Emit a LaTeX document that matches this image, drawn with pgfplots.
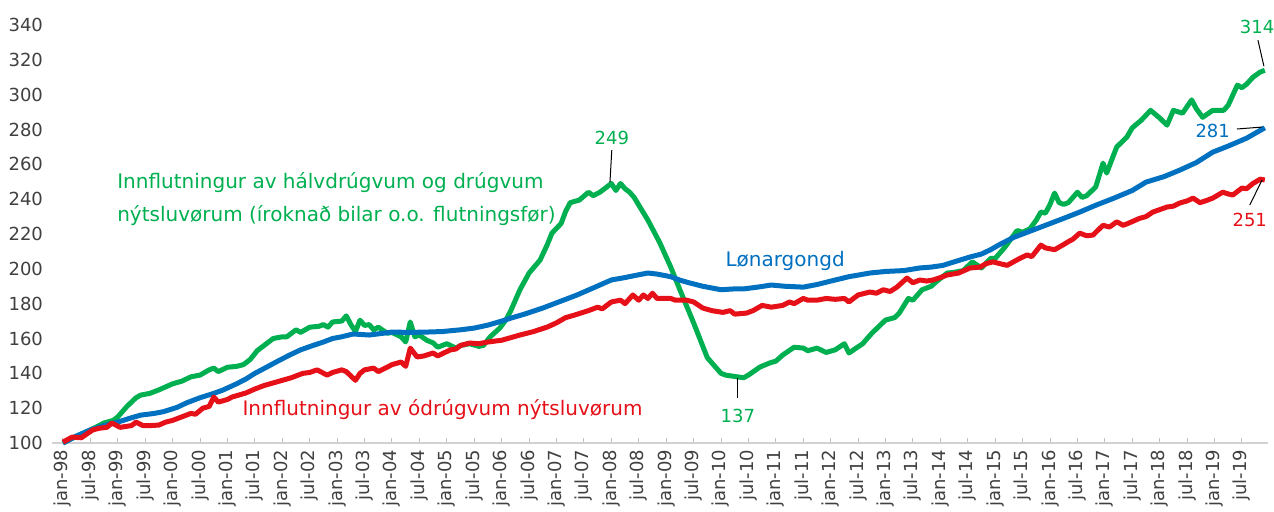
\documentclass[border=0pt]{standalone}
\usepackage{fontspec}
\setmainfont{DejaVu Sans}
\usepackage{pgfplots}
\pgfplotsset{compat=1.18}
\definecolor{cgreen}{RGB}{0,176,80}
\definecolor{cblue}{RGB}{0,112,192}
\definecolor{cred}{RGB}{230,16,24}
\definecolor{ctick}{RGB}{64,64,64}
\begin{document}
\begin{tikzpicture}
\useasboundingbox (-26pt,-34pt) rectangle (611pt,221.5pt);
\begin{axis}[
  at={(0pt,0pt)}, anchor=south west,
  scale only axis, width=608pt, height=209pt,
  xmin=-2.4, xmax=263.7, ymin=100, ymax=340,
  clip=false,
  axis x line*=bottom, axis y line*=left,
  y axis line style={draw=none},
  x axis line style={draw=black!18, line width=0.6pt},
  ytick={100,120,...,340},
  xtick={0,6,...,258},
  xticklabels={jan-98,jul-98,jan-99,jul-99,jan-00,jul-00,jan-01,jul-01,jan-02,jul-02,jan-03,jul-03,jan-04,jul-04,jan-05,jul-05,jan-06,jul-06,jan-07,jul-07,jan-08,jul-08,jan-09,jul-09,jan-10,jul-10,jan-11,jul-11,jan-12,jul-12,jan-13,jul-13,jan-14,jul-14,jan-15,jul-15,jan-16,jul-16,jan-17,jul-17,jan-18,jul-18,jan-19,jul-19},
  ytick style={draw=none},
  xtick style={draw=black!25, line width=0.5pt},
  tick align=inside, major tick length=2.5pt,
  /pgf/number format/assume math mode=true,
  yticklabel style={font=\fontsize{9}{10}\selectfont, text=ctick, anchor=east, xshift=-1pt},
  xticklabel style={font=\fontsize{9}{10}\selectfont, text=ctick, rotate=90, anchor=east, yshift=0pt},
  every axis plot/.append style={line width=2.5pt, line join=round, no markers},
]
% Green: imports of semi-durable and durable consumer goods
\addplot[cgreen] coordinates {
(0,100)(3,104)(6,107.5)(9,111.5)(11,113)(12,115)(14,121)(16,126)(17,127.5)(19,128.5)(21,130.5)(24,134)(26,135.5)(28,138)(30,139)(32,142)(33,143)(34,141)(36,143.5)(38,144)(39.5,145)(41,148)(42.5,153)(44,156)(46,160)(48,161)(49,161)(51,165)(52,163.5)(54,166.5)(56,167)(57,168)(58,166.5)(59,169.5)(61,170)(62,173)(63,168)(64,164)(65,170.5)(66,167.5)(67,168)(68,165)(69,166.5)(71,163)(72,163.5)(74,161)(75,158)(76,169.5)(77,161)(78,162)(79.6,159)(81,157.5)(82,155)(84,157)(86,154.5)(87,156)(89,157)(91,155.5)(92,156)(93.5,161)(95.6,166)(97,171)(98,176)(100,188)(102,197.6)(104.4,205)(106,214)(107,220.5)(109,226)(110,233)(111,238)(113,239.5)(115,244)(116,242)(117.5,244)(119,247)(120,249)(121,245)(122,249)(123,246)(124,244)(125,241)(126,236.6)(128,228)(130.6,215)(133,201)(135,188)(138,169)(141,149)(142,146)(144,140)(145,139)(147.5,138)(149,137.5)(150,139)(152.5,143.6)(154.7,146)(156,147)(157.5,150.5)(160,155)(162,154.5)(163,153)(165,154.5)(167,152)(169,153.5)(171,157)(172,151.7)(175,157)(177,163)(180,170.6)(182,172)(183,174.6)(185,183)(186,182)(188,188)(190,190)(191,192.4)(193.5,197.6)(195,198)(197,199)(199,204)(201,200.5)(203,206)(204,206)(206,212)(208.8,222)(210,221)(211.6,223)(213,228)(214,232.6)(215,232)(216,237)(217,243.5)(218,238)(219,237)(220,238)(222,244)(223,241)(224,242)(226,247)(227.6,260.7)(228.4,255)(230,266)(230.6,270)(232.8,275.6)(234,281)(236,285.4)(238,291)(240,286.6)(241.6,282.5)(243,291)(245,289.4)(247,297)(248,292)(249.4,287)(251.6,291)(254,291)(255,294)(257,305.5)(258,304)(259,306)(260.4,310)(262,313)(263,314)
};
% Blue: wages
\addplot[cblue] coordinates {
(0,100)(3,104)(6,107.5)(9,110)(12,112)(15,114.5)(17,116)(20,117)(22,118)(25,120.5)(27,123)(30,126)(33,128.5)(35,130.4)(38,134)(40,136.7)(42,140)(44.6,143.6)(47,147)(49.6,150.5)(52,153.5)(54.7,156)(57,158)(59,160)(61,161)(63.5,162.6)(67,162)(70,163)(72,163.7)(76,163.5)(79.6,163.7)(83,164)(87,165)(90,166)(93,167.7)(96,170)(98,171.7)(101,174)(105,177.5)(108,180.5)(112.5,185)(116,189)(120,193.6)(123,195)(125.6,196.4)(128,197.6)(130,197)(133,195.5)(135,193.5)(137,192)(140,190)(144,188)(147,188.5)(149,188.5)(152,189.5)(155,190.7)(158,190)(162,189.5)(165,191)(169,193.6)(172,195.5)(176.6,197.6)(180,198.5)(184,199)(187.5,200.5)(190,201)(192.6,202)(195,204)(198.5,206.8)(201,208.5)(203,211)(205,214)(208,218)(211,221)(215,225)(219,229)(222.5,232.6)(226,236.5)(230,240.6)(234,245)(237,249.8)(241,253)(244.4,256.7)(248,261)(251.6,267)(255,270.5)(259,275)(261,278)(263,281)
};
% Red: imports of non-durable consumer goods
\addplot[cred] coordinates {
(0,100.5)(2,103.4)(4,103)(6.5,107.5)(8,108.5)(9.6,109)(10.7,111.5)(12.5,109)(15,110)(16,112)(17.5,110)(19,110)(21,110.3)(22.5,112)(24,113)(26,115)(28,117)(29,116.5)(30.6,120)(32,121)(33,126.4)(34,123.5)(36,125)(37,126.4)(40,128.7)(42,131)(44,133)(46,134.5)(48,136)(50,137.5)(52.5,140)(54,140.5)(55.6,142)(57.8,139)(59,140.5)(61,142)(62,141)(64,136)(65,140)(66,142)(68,143)(69,141)(71,143.6)(72,145)(74,146.5)(75,144)(76,154.5)(77.5,149.4)(79,150)(81,151.7)(82,150)(84.7,153.4)(86,154)(87,156)(89,157.4)(91,157)(93,158)(96,159)(98,160.5)(100,162)(101.5,163)(103,164)(106,166.6)(108,169)(110,172)(112,173.5)(115,176)(117,178)(118,177)(120,181)(122,182)(123,180)(124.7,185)(126,182)(127,185)(128,183)(129,186)(130,183)(133,183)(134,182)(136.5,182)(138,181)(140,177.5)(142,176)(144.4,175)(146,176)(147,174)(149.6,174.6)(151,176)(153,179)(155,178)(157.5,179)(159,181)(160,180)(162,183)(163,182)(165,182)(167,183)(169,182.5)(171,183)(172,181)(174,185)(176.6,186.7)(178,186)(179.5,188)(181,187)(182.5,189.5)(184.7,194.7)(186,192)(187.5,193.6)(189,193)(190.4,193.6)(192,195)(193.4,196.4)(196,197.6)(198.5,200.5)(200.7,201)(202,203)(203.5,204)(205,203)(206.6,202)(208,204)(209.4,206)(211,208)(212,207)(214,213.6)(215,212)(217,211)(219,214)(220,215.6)(221,217)(222.5,220.5)(224,219)(225.4,219.4)(227.6,225)(229,224)(230.6,227)(232,225)(233,226)(235.6,229)(237,230)(238.5,232.6)(240,234)(241.6,235.5)(243,236)(244.4,237.8)(246,239)(247.3,240.6)(248.8,238)(250,239)(251.6,240.6)(253.8,244)(255,243)(256,242.4)(258,246.4)(259,246)(260.4,249)(262,251.5)(263,251)
};
% annotations
\node[anchor=west, text=cgreen, font=\fontsize{10}{12}\selectfont, inner sep=0pt] at (axis cs:11.8,249.3) {Innflutningur av hálvdrúgvum og drúgvum};
\node[anchor=west, text=cgreen, font=\fontsize{10}{12}\selectfont, inner sep=0pt] at (axis cs:11.8,230.3) {nýtsluvørum (íroknað bilar o.o. flutningsfør)};
\node[anchor=west, text=cblue, font=\fontsize{10}{12}\selectfont, inner sep=0pt] at (axis cs:144.9,204.5) {Lønargongd};
\node[anchor=west, text=cred, font=\fontsize{10}{12}\selectfont, inner sep=0pt] at (axis cs:39.2,119) {Innflutningur av ódrúgvum nýtsluvørum};
\node[text=cgreen, font=\fontsize{9}{10}\selectfont, inner sep=0pt] at (axis cs:120.1,275) {249};
\node[text=cgreen, font=\fontsize{9}{10}\selectfont, inner sep=0pt] at (axis cs:147.7,115.5) {137};
\node[text=cgreen, font=\fontsize{9}{10}\selectfont, inner sep=0pt] at (axis cs:261.3,338.8) {314};
\node[text=cblue, font=\fontsize{9}{10}\selectfont, inner sep=0pt] at (axis cs:251.6,279) {281};
\node[text=cred, font=\fontsize{9}{10}\selectfont, inner sep=0pt] at (axis cs:259.7,228) {251};
\draw[black, line width=0.5pt] (axis cs:120.1,268.2) -- (axis cs:119.7,249.8);
\draw[black, line width=0.5pt] (axis cs:147.5,137.3) -- (axis cs:147.5,125.8);
\draw[black, line width=0.5pt] (axis cs:261.5,331.3) -- (axis cs:262.8,316.4);
\draw[black, line width=0.5pt] (axis cs:256.9,280.3) -- (axis cs:262.4,281.4);
\draw[black, line width=0.5pt] (axis cs:259.7,236.6) -- (axis cs:262.4,251);
\end{axis}
\end{tikzpicture}
\end{document}
